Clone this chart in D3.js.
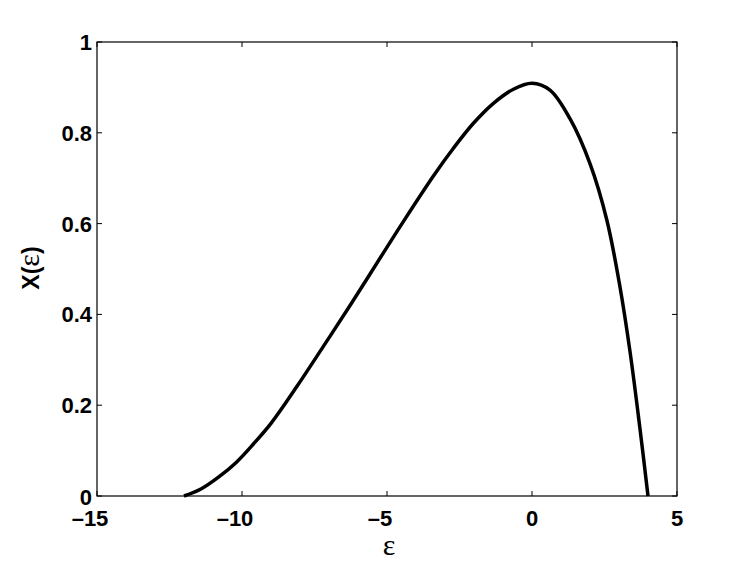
<!DOCTYPE html>
<html><head><meta charset="utf-8">
<script src="https://cdn.jsdelivr.net/npm/d3@7"></script>
<style>body{margin:0;background:#fff}svg{display:block}</style>
</head><body>
<svg id="c" width="747" height="562"></svg>
<script>
const epsValues = [-12, -11.4, -10.8, -10.2, -9.6, -9.0, -8.11, -7.2, -6.28, -5.13, -4.32, -3.4, -2.71, -2.02, -1.33, -0.64, 0, 0.62, 1.31, 2.0, 2.58, 3.03, 3.38, 3.72, 4.0];
const xValues   = [0, 0.016, 0.042, 0.074, 0.115, 0.160, 0.241, 0.329, 0.419, 0.535, 0.616, 0.705, 0.766, 0.821, 0.865, 0.896, 0.909, 0.894, 0.831, 0.732, 0.608, 0.462, 0.318, 0.150, 0];
const xTicks = [-15, -10, -5, 0, 5];
const yTicks = [0, 0.2, 0.4, 0.6, 0.8, 1];
const yTickLabels = ["0", "0.2", "0.4", "0.6", "0.8", "1"];

const svg = d3.select("#c");
const L = 97, R = 677, T = 42, B = 496;
const x = d3.scaleLinear().domain([-15, 5]).range([L, R]);
const y = d3.scaleLinear().domain([0, 1]).range([B, T]);
const font = "'Liberation Sans', Arial, Helvetica, sans-serif";

// box
svg.append("rect").attr("x", L).attr("y", T).attr("width", R - L).attr("height", B - T)
  .attr("fill", "none").attr("stroke", "#000").attr("stroke-width", 1.2);

const tl = 5;
// ticks
xTicks.forEach(t => {
  const px = x(t);
  svg.append("line").attr("x1", px).attr("x2", px).attr("y1", B).attr("y2", B - tl).attr("stroke", "#000");
  svg.append("line").attr("x1", px).attr("x2", px).attr("y1", T).attr("y2", T + tl).attr("stroke", "#000");
  svg.append("text").attr("x", px + (t < 0 ? -7 : 0)).attr("y", 525.5)
    .attr("text-anchor", "middle").attr("font-family", font).attr("font-weight", "bold")
    .attr("font-size", 22).text(t < 0 ? "\u2013" + Math.abs(t) : String(t));
});
yTicks.forEach((t, i) => {
  const py = y(t);
  svg.append("line").attr("x1", L).attr("x2", L + tl).attr("y1", py).attr("y2", py).attr("stroke", "#000");
  svg.append("line").attr("x1", R).attr("x2", R - tl).attr("y1", py).attr("y2", py).attr("stroke", "#000");
  svg.append("text").attr("x", 92).attr("y", py + (t === 0 ? 1.5 : 0)).attr("dy", "0.36em")
    .attr("text-anchor", "end").attr("font-family", font).attr("font-weight", "bold")
    .attr("font-size", 22).text(yTickLabels[i]);
});

// curve
const line = d3.line().x((d, i) => x(epsValues[i])).y(d => y(d)).curve(d3.curveCatmullRom.alpha(0.5));
svg.append("path").datum(xValues).attr("d", line).attr("fill", "none")
  .attr("stroke", "#000").attr("stroke-width", 3.5).attr("stroke-linejoin", "round");

// x label
svg.append("text").attr("x", 389).attr("y", 555).attr("text-anchor", "middle")
  .attr("font-family", "'Liberation Serif', 'Times New Roman', serif").attr("font-size", 30).text("\u03b5");

// y label
const yl = svg.append("text").attr("transform", "translate(39,268) rotate(-90)").attr("text-anchor", "middle");
yl.append("tspan").attr("font-family", font).attr("font-weight", "bold").attr("font-size", 23).text("X(");
yl.append("tspan").attr("font-family", "'Liberation Serif', 'Times New Roman', serif").attr("font-size", 30).text("\u03b5");
yl.append("tspan").attr("font-family", font).attr("font-weight", "bold").attr("font-size", 23).text(")");
</script>
</body></html>
